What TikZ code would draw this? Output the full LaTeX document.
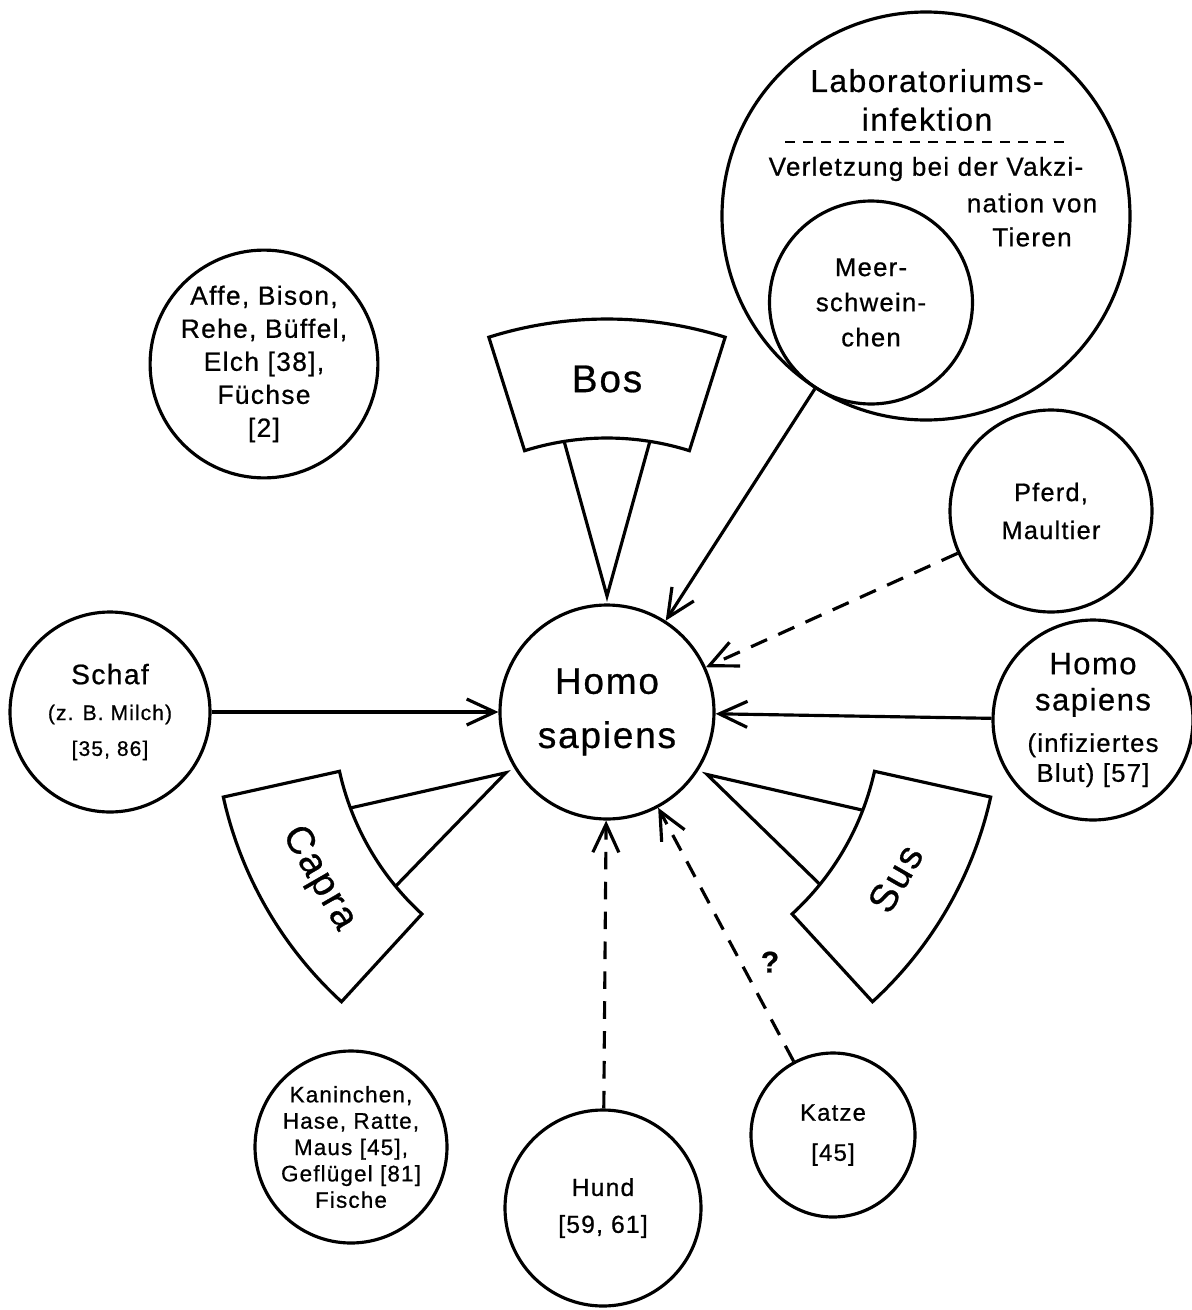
\documentclass[tikz,border=0pt]{standalone}
\usepackage{fontspec}
\setmainfont{Liberation Sans}[LetterSpace=5,FakeBold=0.7]
\usetikzlibrary{arrows.meta}
\tikzset{
  circ/.style={circle,draw,line width=0.9pt,inner sep=0pt,align=center},
  sect/.style={draw,line width=0.9pt},
  sectlbl/.style={font=\fontsize{11}{13}\selectfont},
  arr/.style={-{Straight Barb[length=2.8mm,width=2.6mm]},line width=0.9pt},
  arrd/.style={arr,dash pattern=on 5pt off 3.5pt},
  sepline/.style={line width=0.6pt,dash pattern=on 2.8pt off 2.3pt},
  lbl/.style={font=\fontsize{8.5}{10}\selectfont\bfseries},
}

\begin{document}
\begin{tikzpicture}
  \useasboundingbox (0,0) rectangle (11.92,-13.10);

  % host in the middle
  \node[circ,minimum size=2.14cm,font=\fontsize{10.5}{15.4}\selectfont] (hs)
    at (6.07,-7.12) {Homo\\sapiens};

  % laboratory
  \node[circ,minimum size=4.08cm] (lab) at (9.26,-2.16) {};
  \node[align=center,font=\fontsize{9}{11}\selectfont] (labt)
    at (9.27,-1.00) {Laboratoriums-\\infektion};
  \draw[sepline] (7.85,-1.42) -- (10.70,-1.42);
  \node[font=\fontsize{7.4}{9.7}\selectfont] (verl)
    at (9.26,-1.69) {Verletzung bei der Vakzi-};
  \node[align=center,font=\fontsize{7.4}{9.7}\selectfont] (tier)
    at (10.32,-2.20) {nation von\\Tieren};
  \node[circ,minimum size=2.03cm,font=\fontsize{7.3}{10}\selectfont] (meer)
    at (8.71,-3.025) {Meer-\\schwein-\\chen};

  % other sources
  \node[circ,minimum size=2.02cm,font=\fontsize{7.2}{10.8}\selectfont] (pferd)
    at (10.51,-5.11) {Pferd,\\Maultier};
  \node[circ,minimum size=2.0cm,font=\fontsize{8.8}{10.3}\selectfont] (hsb)
    at (10.93,-7.20) {Homo\\sapiens\\[1.5pt]{\fontsize{7.3}{9}\selectfont (infiziertes}\\[-1.8pt]{\fontsize{7.3}{9}\selectfont Blut) [57]}};
  \node[circ,minimum size=2.0cm,font=\fontsize{6}{10.2}\selectfont] (schaf)
    at (1.10,-7.12) {{\fontsize{8}{10.2}\selectfont Schaf}\\(z. B. Milch)\\{}[35, 86]};
  \node[circ,minimum size=2.04cm,font=\fontsize{7.5}{9.4}\selectfont] (wild)
    at (2.64,-3.64) {Affe, Bison,\\Rehe, Büffel,\\Elch [38],\\Füchse\\{}[2]};
  \node[circ,minimum size=1.92cm,font=\fontsize{6.4}{7.5}\selectfont] (kanin)
    at (3.51,-11.47) {Kaninchen,\\Hase, Ratte,\\Maus [45],\\Geflügel [81]\\Fische};
  \node[circ,minimum size=1.96cm,font=\fontsize{7}{10.5}\selectfont] (hund)
    at (6.03,-12.08) {Hund\\{}[59, 61]};
  \node[circ,minimum size=1.64cm,font=\fontsize{6.8}{11.4}\selectfont] (katze)
    at (8.33,-11.35) {Katze\\{}[45]};

  % Bos, Capra, Sus
  \begin{scope}[shift={(6.07,-7.12)}]
    \draw[sect] (72.5:2.74) arc[start angle=72.5,end angle=107.5,radius=2.74]
      -- (107.5:3.93) arc[start angle=107.5,end angle=72.5,radius=3.93] -- cycle;
    \draw[sect] (81:2.74) -- (90:1.16) -- (99:2.74);
    \node[sectlbl] (bos) at (90:3.33) {Bos};

    \draw[sect] (192.5:2.74) arc[start angle=192.5,end angle=227.5,radius=2.74]
      -- (227.5:3.93) arc[start angle=227.5,end angle=192.5,radius=3.93] -- cycle;
    \draw[sect] (200.5:2.74) -- (211:1.18) -- (219.5:2.74);
    \node[sectlbl,rotate=-60,inner sep=0pt] (capra) at (210:3.33) {Capra};

    \draw[sect] (312.5:2.74) arc[start angle=312.5,end angle=347.5,radius=2.74]
      -- (347.5:3.93) arc[start angle=347.5,end angle=312.5,radius=3.93] -- cycle;
    \draw[sect] (321:2.74) -- (328:1.18) -- (339:2.74);
    \node[sectlbl,rotate=60,inner sep=0pt] (sus) at (330:3.33) {Sus};
  \end{scope}

  \draw[arr] (lab) -- (hs);
  \draw[arrd] (pferd) -- (hs);
  \draw[arr] (hsb) -- (hs);
  \draw[arr] (schaf) -- (hs);
  \draw[arrd] (hund) -- (hs);
  \draw[arrd] (katze) -- (hs);
  \node[lbl] (q) at (7.70,-9.62) {?};
\end{tikzpicture}
\end{document}
